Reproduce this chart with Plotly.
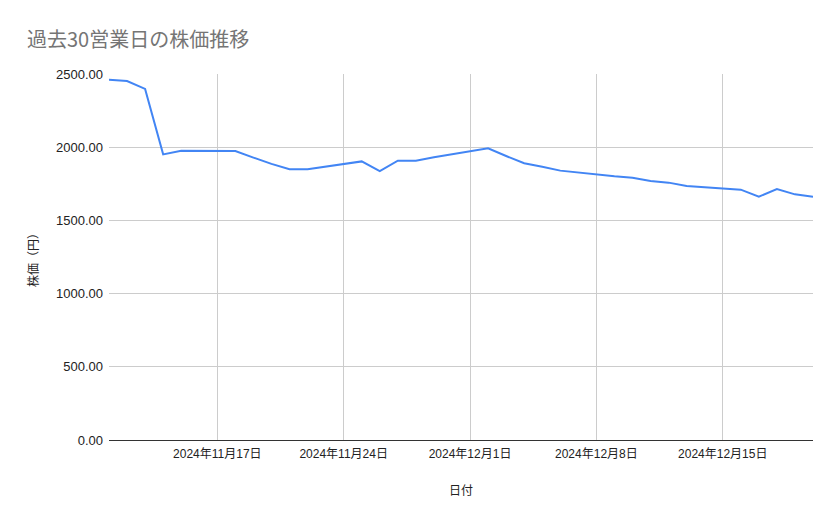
import plotly.graph_objects as go

# 過去30営業日 (2024/11/11 - 2024/12/20)
dates = [
    "2024-11-11", "2024-11-12", "2024-11-13", "2024-11-14", "2024-11-15",
    "2024-11-18", "2024-11-19", "2024-11-20", "2024-11-21", "2024-11-22",
    "2024-11-25", "2024-11-26", "2024-11-27", "2024-11-28", "2024-11-29",
    "2024-12-02", "2024-12-03", "2024-12-04", "2024-12-05", "2024-12-06",
    "2024-12-09", "2024-12-10", "2024-12-11", "2024-12-12", "2024-12-13",
    "2024-12-16", "2024-12-17", "2024-12-18", "2024-12-19", "2024-12-20",
]
prices = [
    2461, 2452, 2398, 1951, 1976,
    1974, 1929, 1886, 1849, 1849,
    1903, 1837, 1908, 1908, 1931,
    1993, 1940, 1890, 1866, 1840,
    1801, 1792, 1769, 1758, 1735,
    1710, 1662, 1714, 1678, 1662,
]
y_ticks = [0, 500, 1000, 1500, 2000, 2500]

font_fam = "Arial, 'Liberation Sans', 'Noto Sans CJK JP', sans-serif"

fig = go.Figure()
fig.add_trace(go.Scatter(
    x=dates, y=prices, mode="lines",
    line=dict(color="#4285F4", width=2),
    showlegend=False,
))

fig.update_layout(
    width=839, height=519,
    margin=dict(l=109, r=26, t=74, b=79, autoexpand=False),
    paper_bgcolor="white", plot_bgcolor="white",
    font=dict(family=font_fam, size=12, color="#222222"),
    title=dict(
        text="過去30営業日の株価推移",
        x=27 / 839, xanchor="left", y=1 - 40 / 519, yanchor="middle",
        font=dict(size=20, color="#757575", family="'Noto Sans CJK JP', sans-serif"),
    ),
    xaxis=dict(
        type="date",
        range=["2024-11-11", "2024-12-20"],
        tick0="2024-11-17", dtick=7 * 86400000,
        tickformat="%Y年%-m月%-d日",
        showgrid=True, gridcolor="#cccccc", gridwidth=1,
        showline=False, zeroline=False, ticks="",
        ticklabelstandoff=5, automargin=False,
        title=dict(text="日付", standoff=26, font=dict(size=12)),
        tickfont=dict(size=12, color="#222222"),
    ),
    yaxis=dict(
        range=[0, 2500],
        tickvals=y_ticks, tickformat=".2f",
        showgrid=True, gridcolor="#cccccc", gridwidth=1,
        zeroline=True, zerolinecolor="#333333", zerolinewidth=1,
        showline=False, ticks="",
        ticklabelstandoff=5, automargin=False,
        title=dict(text="株価（円）", standoff=14, font=dict(size=12)),
        tickfont=dict(size=13, color="#222222"),
    ),
)

fig.write_html("out.html", config={"displayModeBar": False},
               post_script="document.body.style.margin='0';")
